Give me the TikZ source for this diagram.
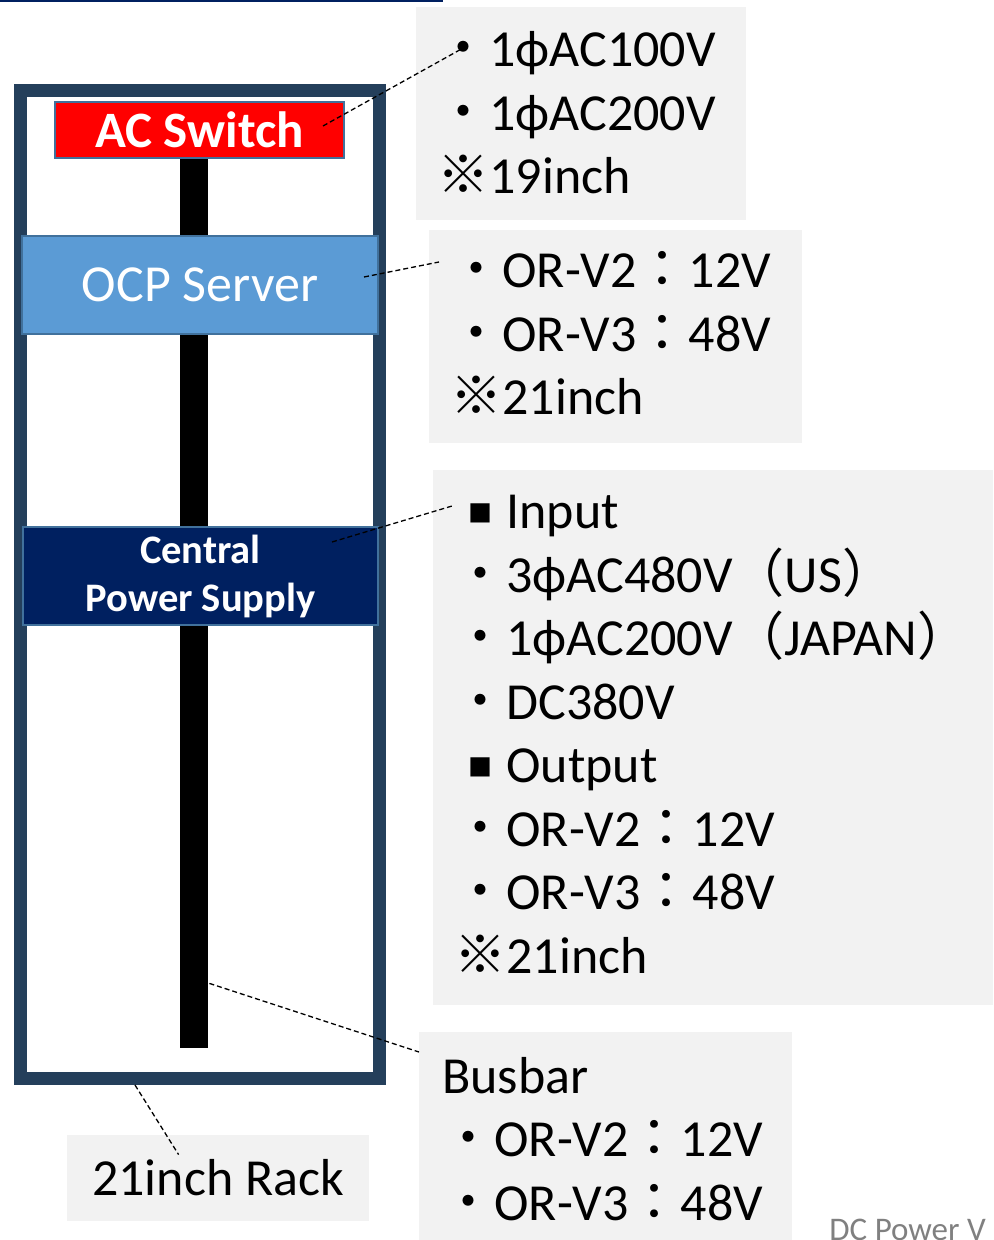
\documentclass[tikz,border=0pt]{standalone}
\usepackage{fontspec}
\setmainfont{Carlito}
\newfontfamily\jpfont{Noto Sans CJK JP}
\usepackage{tikz}
\usetikzlibrary{calc}

\definecolor{rackblue}{HTML}{243F5B}
\definecolor{ocpblue}{HTML}{5B9BD5}
\definecolor{psunavy}{HTML}{002060}
\definecolor{edgeblue}{HTML}{41719C}
\definecolor{notegray}{HTML}{F2F2F2}

\newcommand{\pix}{0.5pt}
\newcommand{\jdot}{{\jpfont ・}}
\newcommand{\kome}{{\jpfont ※}}
\newcommand{\jcolon}{{\jpfont ：}}
\newcommand{\jlp}{{\jpfont （}}
\newcommand{\jrp}{{\jpfont ）}}
\newcommand{\jsq}{\makebox[1em][c]{\raisebox{3pt}{\jpfont\fontsize{12pt}{12pt}\selectfont ■}}}

\begin{document}
\begin{tikzpicture}[x=\pix, y=-\pix,
    spec/.style={fill=notegray, inner sep=0pt, anchor=north west},
    spectext/.style={anchor=base west, align=left, inner sep=0pt,
        font=\fontsize{26pt}{31.75pt}\selectfont},
    part/.style={draw=edgeblue, line width=1pt, inner sep=0pt, text=white},
    leader/.style={dash pattern=on 2.5pt off 1.5pt, line width=0.65pt}]

\useasboundingbox (0,0) rectangle (993,1240);

% Top rule
\draw[psunavy, line width=1pt] (0,1) -- (443,1);

% Rack frame
\node[draw=rackblue, line width=6.5pt, inner sep=0pt,
    minimum width=359*\pix, minimum height=988*\pix] (rack) at (200,584.5) {};

% Busbar
\node[fill=black, inner sep=0pt, minimum width=28*\pix,
    minimum height=890*\pix] (bar) at (194,603) {};

% Units in the rack
\node[part, fill=red, minimum width=289*\pix, minimum height=56*\pix,
    font=\bfseries\fontsize{25.5pt}{30pt}\selectfont] (acsw) at (199.5,130) {AC Switch};
\node[part, fill=ocpblue, minimum width=356*\pix, minimum height=98*\pix,
    font=\fontsize{26pt}{30pt}\selectfont] (ocp) at (200,285) {OCP Server};
\node[part, fill=psunavy, minimum width=355*\pix, minimum height=98*\pix, align=center,
    font=\bfseries\fontsize{20.25pt}{24pt}\selectfont] (cps) at (200.5,576) {Central\\Power Supply};

% Spec notes (text placed by its last baseline)
\node[spec, minimum width=330*\pix, minimum height=213*\pix] (acspec) at (416,7) {};
\node[spectext] (acspectext) at (437,194)
    {\jdot 1ϕAC100V\\\jdot 1ϕAC200V\\\kome 19inch};

\node[spec, minimum width=373*\pix, minimum height=213*\pix] (ocpspec) at (429,230) {};
\node[spectext] (ocpspectext) at (450,415)
    {\jdot OR-V2\jcolon 12V\\\jdot OR-V3\jcolon 48V\\\kome 21inch};

\node[spec, minimum width=560*\pix, minimum height=535*\pix] (cpsspec) at (433,470) {};
\node[spectext] (cpsspectext) at (454,973)
    {\jsq Input\\\jdot 3ϕAC480V\jlp US\jrp\\\jdot 1ϕAC200V\jlp JAPAN\jrp\\\jdot DC380V\\
     \jsq Output\\\jdot OR-V2\jcolon 12V\\\jdot OR-V3\jcolon 48V\\\kome 21inch};

\node[spec, minimum width=373*\pix, minimum height=208*\pix] (barspec) at (419,1032) {};
\node[spectext] (barspectext) at (442,1220)
    {Busbar\\\jdot OR-V2\jcolon 12V\\\jdot OR-V3\jcolon 48V};

\node[fill=notegray, inner sep=0pt, minimum width=302*\pix, minimum height=86*\pix,
    font=\fontsize{26pt}{30pt}\selectfont] (racklabel) at (218,1178) {21inch Rack};

\node[anchor=base west, inner sep=0pt, text=gray,
    font=\fontsize{16.5pt}{20pt}\selectfont] (dcnote) at (829,1240) {DC Power V};

% Leaders
\draw[leader] ($(acsw.east)+(-22,-4)$) -- ($(acspec.north west)+(49,40)$);
\draw[leader] ($(ocp.east)+(-15,-8)$) -- ($(ocpspec.north west)+(10,32)$);
\draw[leader] ($(cps.north east)+(-47,16)$) -- ($(cpsspec.north west)+(19,36)$);
\draw[leader] ($(bar.south east)+(1,-65)$) -- ($(barspec.north west)+(0,20)$);
\draw[leader] ($(rack.south)+(-65,0)$) -- ($(racklabel.north west)+(112,20)$);

\end{tikzpicture}
\end{document}
